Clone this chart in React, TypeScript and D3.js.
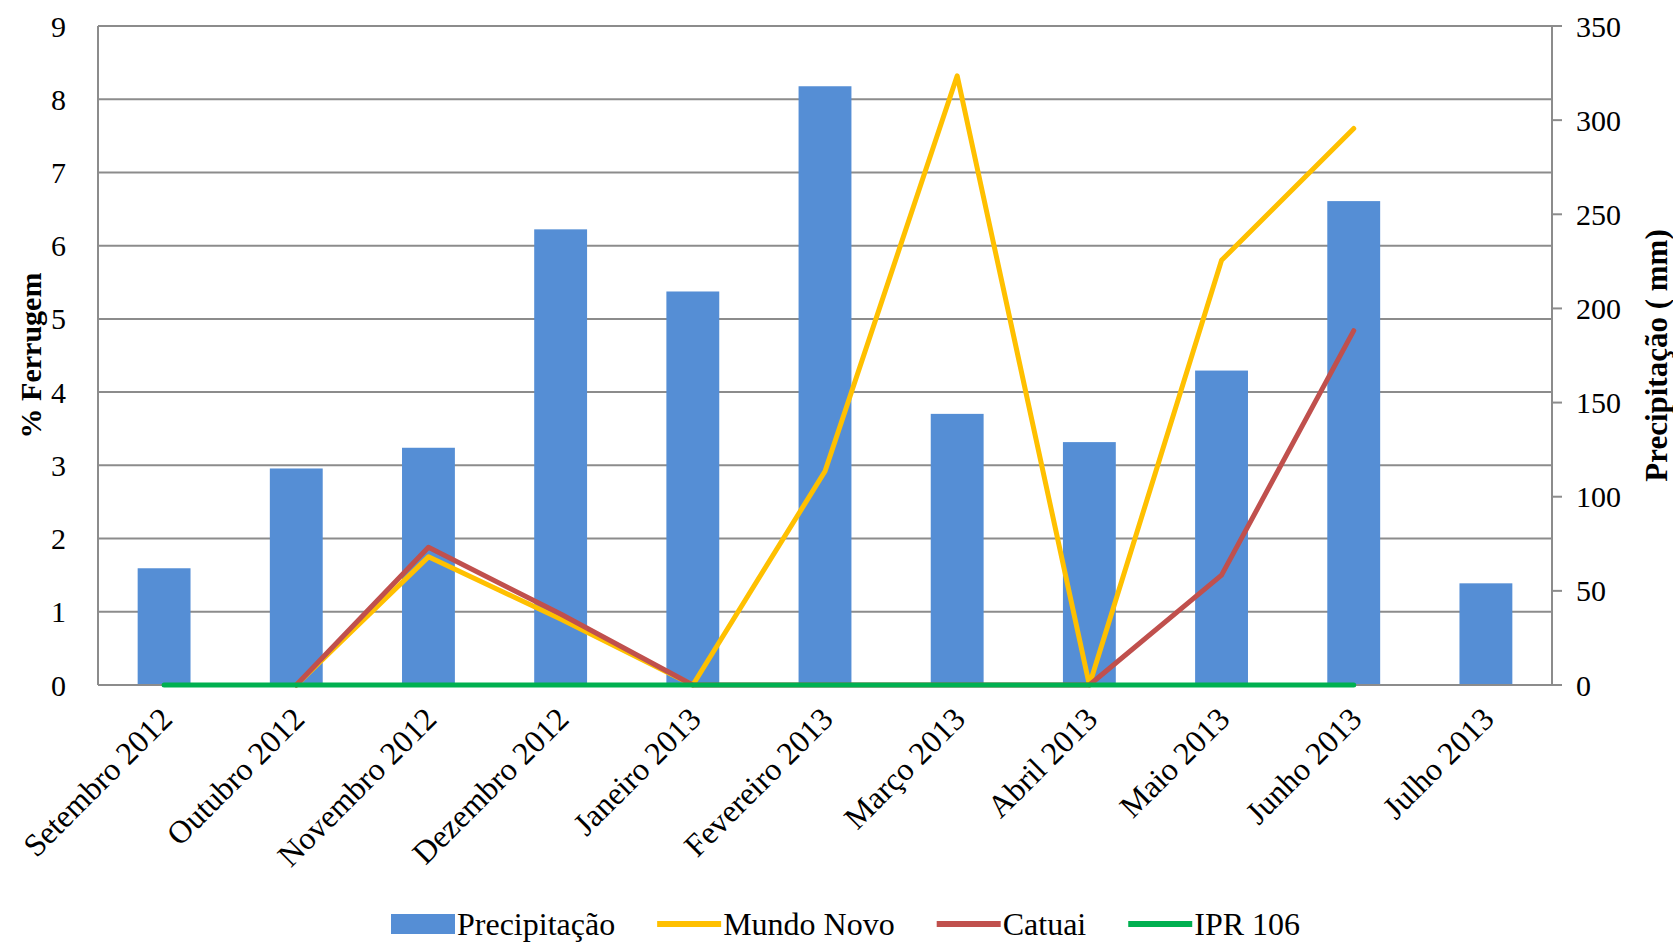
import React, { useEffect, useRef } from 'react';
import * as d3 from 'd3';

const categories = [
  'Setembro 2012', 'Outubro 2012', 'Novembro 2012', 'Dezembro 2012', 'Janeiro 2013',
  'Fevereiro 2013', 'Março 2013', 'Abril 2013', 'Maio 2013', 'Junho 2013', 'Julho 2013',
];
const precipitacao = [62, 115, 126, 242, 209, 318, 144, 129, 167, 257, 54];
const mundoNovo: (number | null)[] = [null, 0, 1.75, 0.9, 0, 2.92, 8.32, 0, 5.8, 7.6, null];
const catuai: (number | null)[] = [null, 0, 1.88, 0.97, 0, 0, 0, 0, 1.5, 4.84, null];
const ipr106: (number | null)[] = [0, 0, 0, 0, 0, 0, 0, 0, 0, 0, null];
const leftTicks = [0, 1, 2, 3, 4, 5, 6, 7, 8, 9];
const rightTicks = [0, 50, 100, 150, 200, 250, 300, 350];

const lineSeries = [
  { name: 'Mundo Novo', values: mundoNovo, color: '#FFC000' },
  { name: 'Catuai', values: catuai, color: '#C0504D' },
  { name: 'IPR 106', values: ipr106, color: '#00B050' },
];

const W = 1673;
const H = 942;
const FONT = '"Liberation Serif", "Times New Roman", serif';

const App: React.FC = () => {
  const ref = useRef<SVGSVGElement>(null);

  useEffect(() => {
    document.body.style.margin = '0';
    const svg = d3.select(ref.current);
    svg.selectAll('*').remove();

    const left = 98, right = 1552, top = 26, bottom = 685;

    const x = d3.scaleBand<string>().domain(categories).range([left, right]).paddingInner(0).paddingOuter(0);
    const yL = d3.scaleLinear().domain([0, 9]).range([bottom, top]);
    const yR = d3.scaleLinear().domain([0, 350]).range([bottom, top]);
    const barW = x.bandwidth() / 2.5;
    const cx = (c: string) => (x(c) || 0) + x.bandwidth() / 2;

    // gridlines
    svg.append('g').selectAll('line').data(leftTicks.filter(t => t > 0)).join('line')
      .attr('x1', left).attr('x2', right)
      .attr('y1', d => yL(d)).attr('y2', d => yL(d))
      .attr('stroke', '#8c8c8c').attr('stroke-width', 2);

    // axis lines
    const axisColor = '#8c8c8c';
    svg.append('line').attr('x1', left).attr('x2', left).attr('y1', top).attr('y2', bottom)
      .attr('stroke', axisColor).attr('stroke-width', 2);
    svg.append('line').attr('x1', right).attr('x2', right).attr('y1', top).attr('y2', bottom)
      .attr('stroke', axisColor).attr('stroke-width', 2);

    // bars
    svg.append('g').selectAll('rect').data(precipitacao).join('rect')
      .attr('x', (_, i) => cx(categories[i]) - barW / 2)
      .attr('width', barW)
      .attr('y', d => yR(d))
      .attr('height', d => bottom - yR(d))
      .attr('fill', '#558ED5');

    svg.append('line').attr('x1', left).attr('x2', right + 10).attr('y1', bottom).attr('y2', bottom)
      .attr('stroke', axisColor).attr('stroke-width', 2);

    // right ticks
    svg.append('g').selectAll('line').data(rightTicks).join('line')
      .attr('x1', right).attr('x2', right + 10)
      .attr('y1', d => yR(d)).attr('y2', d => yR(d))
      .attr('stroke', axisColor).attr('stroke-width', 2);

    // lines
    lineSeries.forEach(s => {
      const gen = d3.line<number | null>()
        .defined(d => d !== null)
        .x((_, i) => cx(categories[i]))
        .y(d => yL(d as number));
      svg.append('path').attr('d', gen(s.values) || '')
        .attr('fill', 'none').attr('stroke', s.color).attr('stroke-width', 5)
        .attr('stroke-linejoin', 'round').attr('stroke-linecap', 'round');
    });

    // left tick labels
    svg.append('g').selectAll('text').data(leftTicks).join('text')
      .attr('x', 66).attr('y', d => yL(d)).attr('dy', '0.35em')
      .attr('text-anchor', 'end').attr('font-family', FONT).attr('font-size', 30)
      .attr('fill', '#000').text(d => d);

    // right tick labels
    svg.append('g').selectAll('text').data(rightTicks).join('text')
      .attr('x', 1576).attr('y', d => yR(d)).attr('dy', '0.35em')
      .attr('text-anchor', 'start').attr('font-family', FONT).attr('font-size', 30)
      .attr('fill', '#000').text(d => d);

    // x labels
    svg.append('g').selectAll('text').data(categories).join('text')
      .attr('transform', d => `translate(${cx(d) + 2},${bottom + 28}) rotate(-45)`)
      .attr('text-anchor', 'end').attr('dy', '0.35em')
      .attr('font-family', FONT).attr('font-size', 32).attr('fill', '#000').text(d => d);

    // axis titles
    svg.append('text')
      .attr('transform', `translate(30,${(top + bottom) / 2}) rotate(-90)`)
      .attr('text-anchor', 'middle').attr('dy', '0.35em')
      .attr('font-family', FONT).attr('font-size', 30).attr('font-weight', 'bold')
      .text('% Ferrugem');
    svg.append('text')
      .attr('transform', `translate(1656,${(top + bottom) / 2}) rotate(-90)`)
      .attr('text-anchor', 'middle').attr('dy', '0.35em')
      .attr('font-family', FONT).attr('font-size', 31).attr('font-weight', 'bold')
      .text('Precipitação ( mm)');

    // legend
    const legendItems = [
      { name: 'Precipitação', color: '#558ED5', type: 'bar' },
      ...lineSeries.map(s => ({ name: s.name, color: s.color, type: 'line' })),
    ];
    const ly = 924;
    const gap = 42;
    const sym = 64;
    const lg = svg.append('g').attr('transform', 'translate(391,0)');
    let lx = 0;
    legendItems.forEach(item => {
      if (item.type === 'bar') {
        lg.append('rect').attr('x', lx).attr('y', ly - 10).attr('width', sym).attr('height', 20).attr('fill', item.color);
      } else {
        lg.append('line').attr('x1', lx).attr('x2', lx + sym).attr('y1', ly).attr('y2', ly)
          .attr('stroke', item.color).attr('stroke-width', 6);
      }
      const t = lg.append('text').attr('x', lx + sym + 2).attr('y', ly).attr('dy', '0.35em')
        .attr('font-family', FONT).attr('font-size', 32).attr('fill', '#000').text(item.name);
      const w = (t.node() as SVGTextElement).getComputedTextLength();
      lx += sym + 2 + w + gap;
    });
  }, []);

  return <svg ref={ref} width={W} height={H} style={{ display: 'block', background: '#fff' }} />;
};

export default App;
